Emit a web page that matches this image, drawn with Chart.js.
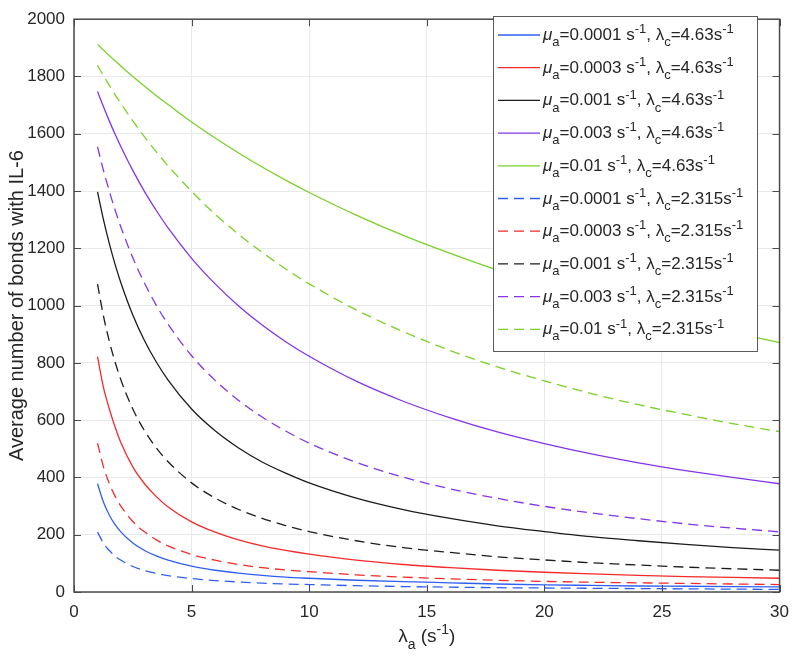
<!DOCTYPE html>
<html>
<head>
<meta charset="utf-8">
<script src="https://cdn.jsdelivr.net/npm/chart.js@4.4.1/dist/chart.umd.min.js"></script>
<style>
  html, body { margin: 0; padding: 0; background: #fff; }
</style>
</head>
<body>
<canvas id="chart" width="799" height="659"></canvas>
<script>
// x values (λa, s^-1)
const lambdaA = [1, 1.25, 1.5, 1.75, 2, 2.5, 3, 3.5, 4, 5, 6, 7, 8, 9, 10, 12, 14, 16, 18, 20, 22, 24, 26, 28, 30];

// λc = 4.63 s^-1 (solid)
const mu0001_c463 = [378, 314, 269, 235, 209, 171, 145, 126, 111, 90, 76, 66, 58, 52, 48, 41, 36, 32, 28, 25, 23, 21, 20, 19, 18];
const mu0003_c463 = [822, 715, 640, 575, 520, 437, 378, 333, 297, 245, 209, 182, 161, 145, 132, 111, 96, 85, 76, 69, 63, 58, 54, 51, 48];
const mu001_c463 = [1397, 1301, 1217, 1143, 1078, 967, 877, 803, 740, 639, 563, 503, 454, 415, 381, 328, 288, 257, 231, 211, 193, 179, 166, 155, 146];
const mu003_c463 = [1748, 1695, 1645, 1598, 1554, 1472, 1398, 1332, 1271, 1165, 1076, 999, 932, 874, 823, 736, 666, 608, 559, 518, 482, 451, 424, 400, 378];
const mu01_c463 = [1912, 1892, 1873, 1855, 1836, 1800, 1766, 1733, 1702, 1641, 1585, 1533, 1484, 1438, 1395, 1316, 1245, 1182, 1124, 1072, 1025, 982, 943, 906, 871];

// λc = 2.315 s^-1 (dashed)
const mu0001_c2315 = [209, 171, 145, 125, 111, 89, 75, 65, 57, 47, 40, 35, 31, 28, 26, 22, 19, 17, 15, 14, 13, 12, 11, 10, 9];
const mu0003_c2315 = [520, 438, 379, 334, 299, 246, 210, 182, 161, 131, 111, 96, 85, 77, 71, 60, 52, 46, 41, 37, 34, 32, 30, 28, 26];
const mu001_c2315 = [1075, 965, 876, 802, 739, 639, 563, 503, 455, 381, 328, 288, 257, 232, 211, 179, 155, 138, 123, 112, 102, 94, 87, 81, 76];
const mu003_c2315 = [1554, 1473, 1400, 1333, 1273, 1167, 1078, 1001, 935, 825, 739, 669, 611, 562, 520, 453, 401, 360, 327, 299, 276, 256, 238, 223, 210];
const mu01_c2315 = [1839, 1803, 1769, 1736, 1705, 1645, 1589, 1537, 1488, 1399, 1319, 1249, 1186, 1128, 1076, 985, 909, 843, 786, 737, 693, 654, 620, 588, 560];

// legend labels
const muValues = ['0.0001', '0.0003', '0.001', '0.003', '0.01'];
const lambdaCValues = ['4.63', '2.315'];

const xTicks = [0, 5, 10, 15, 20, 25, 30];
const yTicks = [0, 200, 400, 600, 800, 1000, 1200, 1400, 1600, 1800, 2000];

const colors = ['#2f5ff2', '#f52a2a', '#1c1c1c', '#8434ea', '#79d126'];
const FONT = '"Liberation Sans", Arial, Helvetica, sans-serif';
const TEXT = '#262626';

const seriesSolid = [mu0001_c463, mu0003_c463, mu001_c463, mu003_c463, mu01_c463];
const seriesDashed = [mu0001_c2315, mu0003_c2315, mu001_c2315, mu003_c2315, mu01_c2315];

function toPoints(arr) {
  return lambdaA.map((x, i) => ({ x: x, y: arr[i] }));
}

const datasets = [];
seriesSolid.forEach((s, i) => {
  datasets.push({
    mu: muValues[i], lc: lambdaCValues[0],
    data: toPoints(s), borderColor: colors[i], borderWidth: 1.3,
    pointRadius: 0, fill: false, cubicInterpolationMode: 'monotone', borderDash: []
  });
});
seriesDashed.forEach((s, i) => {
  datasets.push({
    mu: muValues[i], lc: lambdaCValues[1],
    data: toPoints(s), borderColor: colors[i], borderWidth: 1.3,
    pointRadius: 0, fill: false, cubicInterpolationMode: 'monotone', borderDash: [10, 6]
  });
});

// draws a run of text pieces: normal / sub / sup / italic
function drawRich(ctx, x, y, parts, size) {
  parts.forEach(p => {
    let fs = size, dy = 0, style = '';
    if (p.sub) { fs = Math.round(size * 0.75); dy = size * 0.36; }
    if (p.sup) { fs = Math.round(size * 0.75); dy = -size * 0.4; }
    if (p.it) style = 'italic ';
    ctx.font = style + fs + 'px ' + FONT;
    ctx.fillText(p.t, x, y + dy);
    x += ctx.measureText(p.t).width;
  });
  return x;
}

function richWidth(ctx, parts, size) {
  let w = 0;
  parts.forEach(p => {
    const fs = (p.sub || p.sup) ? Math.round(size * 0.75) : size;
    ctx.font = (p.it ? 'italic ' : '') + fs + 'px ' + FONT;
    w += ctx.measureText(p.t).width;
  });
  return w;
}

// MATLAB-like box with inward ticks on all four sides
const boxPlugin = {
  id: 'boxTicks',
  afterDatasetsDraw(chart) {
    const { ctx, chartArea: a, scales } = chart;
    ctx.save();
    ctx.strokeStyle = '#4a4a4a';
    ctx.lineWidth = 1;
    const len = 7;
    ctx.beginPath();
    xTicks.forEach(v => {
      const px = Math.round(scales.x.getPixelForValue(v)) + 0.5;
      ctx.moveTo(px, a.bottom); ctx.lineTo(px, a.bottom - len);
      ctx.moveTo(px, a.top); ctx.lineTo(px, a.top + len);
    });
    yTicks.forEach(v => {
      const py = Math.round(scales.y.getPixelForValue(v)) + 0.5;
      ctx.moveTo(a.left, py); ctx.lineTo(a.left + len, py);
      ctx.moveTo(a.right, py); ctx.lineTo(a.right - len, py);
    });
    ctx.stroke();
    ctx.lineWidth = 1.5;
    ctx.strokeRect(a.left, a.top, a.right - a.left, a.bottom - a.top);

    // x axis title with subscript / superscript
    const parts = [{ t: 'λ' }, { t: 'a', sub: true }, { t: ' (s' }, { t: '-1', sup: true }, { t: ')' }];
    ctx.fillStyle = TEXT;
    ctx.textBaseline = 'alphabetic';
    const w = richWidth(ctx, parts, 19);
    drawRich(ctx, (a.left + a.right) / 2 - w / 2, 642, parts, 19);
    ctx.restore();
  }
};

// legend box in the top right corner
const legendPlugin = {
  id: 'richLegend',
  afterDraw(chart) {
    const ctx = chart.ctx;
    const bx = 493, by = 16, bw = 264, bh = 335;
    ctx.save();
    ctx.fillStyle = '#fff';
    ctx.fillRect(bx, by, bw, bh);
    ctx.strokeStyle = '#5a5a5a';
    ctx.lineWidth = 1;
    ctx.strokeRect(bx + 0.5, by + 0.5, bw, bh);
    chart.data.datasets.forEach((ds, i) => {
      const cy = 35 + i * 32.7;
      ctx.strokeStyle = ds.borderColor;
      ctx.lineWidth = 1.3;
      ctx.setLineDash(ds.borderDash);
      ctx.beginPath();
      ctx.moveTo(498, cy);
      ctx.lineTo(540, cy);
      ctx.stroke();
      ctx.setLineDash([]);
      ctx.fillStyle = TEXT;
      drawRich(ctx, 543, cy + 5, [
        { t: 'μ', it: true }, { t: 'a', sub: true }, { t: '=' + ds.mu + ' s' }, { t: '-1', sup: true },
        { t: ', λ' }, { t: 'c', sub: true }, { t: '=' + ds.lc + 's' }, { t: '-1', sup: true }
      ], 17);
    });
    ctx.restore();
  }
};

new Chart(document.getElementById('chart'), {
  type: 'line',
  data: { datasets: datasets },
  options: {
    responsive: false,
    animation: false,
    layout: { padding: { top: 6, right: 9, left: 0, bottom: 0 } },
    plugins: { legend: { display: false }, tooltip: { enabled: false } },
    scales: {
      x: {
        type: 'linear', min: 0, max: 30,
        afterFit: (s) => { s.height = 67; },
        afterBuildTicks: (s) => { s.ticks = xTicks.map(v => ({ value: v })); },
        grid: { color: '#e6eaea', drawTicks: false },
        border: { display: false },
        ticks: { color: TEXT, font: { family: FONT, size: 17 }, padding: 10, maxRotation: 0, callback: (v) => String(v) }
      },
      y: {
        min: 0, max: 2000,
        afterFit: (s) => { s.width = 74; },
        afterBuildTicks: (s) => { s.ticks = yTicks.map(v => ({ value: v })); },
        grid: { color: '#e6eaea', drawTicks: false },
        border: { display: false },
        ticks: { color: TEXT, font: { family: FONT, size: 17 }, padding: 9, callback: (v) => String(v) },
        title: {
          display: true, text: 'Average number of bonds with IL-6',
          color: TEXT, font: { family: FONT, size: 20 }, padding: { top: 5, bottom: 0 }
        }
      }
    }
  },
  plugins: [boxPlugin, legendPlugin]
});
</script>
</body>
</html>
